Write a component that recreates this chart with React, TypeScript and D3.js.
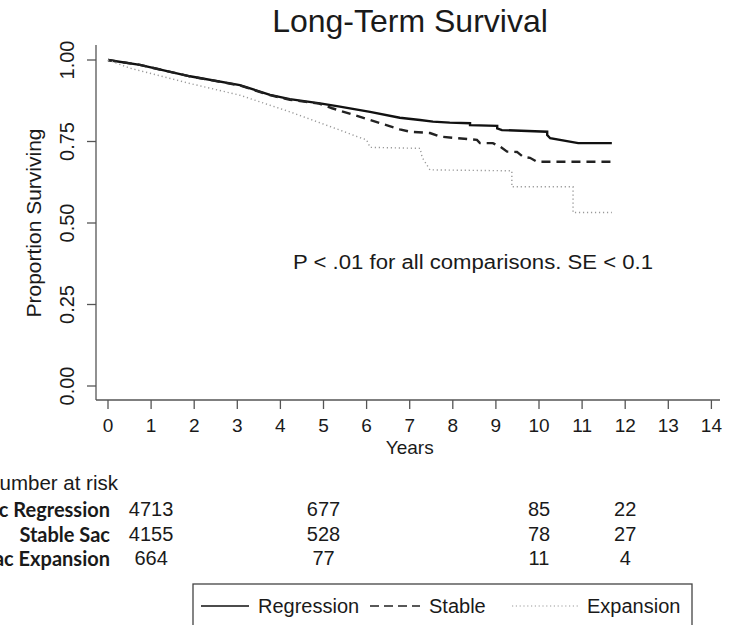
import React from "react";
import * as d3 from "d3";

// ---- data ----
const xTickYears = d3.range(0, 15);
const yTickValues = [0, 0.25, 0.5, 0.75, 1.0];

const regressionYears = [0, 0.74, 1.9, 3.06, 3.76, 4.22, 4.92, 5.38, 6.08, 6.77, 7.24, 7.54, 7.93, 8.4, 8.4, 9.03, 9.03, 9.14, 10.19, 10.19, 10.26, 10.91, 11.69];
const regressionSurv = [1.0, 0.985, 0.95, 0.923, 0.893, 0.88, 0.867, 0.857, 0.841, 0.823, 0.816, 0.811, 0.808, 0.806, 0.8, 0.798, 0.79, 0.785, 0.78, 0.77, 0.76, 0.745, 0.745];

const stableYears = [0, 0.74, 1.9, 3.06, 3.76, 4.22, 4.9, 5.2, 6.08, 6.77, 7.01, 7.47, 7.7, 8.56, 8.63, 8.93, 9.1, 9.26, 9.49, 9.63, 9.79, 9.95, 11.69];
const stableSurv = [1.0, 0.985, 0.95, 0.922, 0.892, 0.878, 0.866, 0.852, 0.816, 0.787, 0.78, 0.776, 0.765, 0.755, 0.745, 0.745, 0.734, 0.719, 0.718, 0.703, 0.7, 0.688, 0.688];

const expansionYears = [0, 0.51, 1.9, 3.06, 4.22, 5.38, 5.78, 6.0, 6.08, 7.24, 7.29, 7.47, 9.37, 9.37, 10.79, 10.79, 11.69];
const expansionSurv = [1.0, 0.975, 0.928, 0.892, 0.841, 0.785, 0.765, 0.755, 0.732, 0.729, 0.701, 0.663, 0.66, 0.611, 0.611, 0.532, 0.532];

const riskGroups = ["Sac Regression", "Stable Sac", "Sac Expansion"];
const riskColumnYears = [1, 5, 10, 12];
const riskRegression = [4713, 677, 85, 22];
const riskStable = [4155, 528, 78, 27];
const riskExpansion = [664, 77, 11, 4];

const legendLabels = ["Regression", "Stable", "Expansion"];

// ---- layout ----
const W = 731;
const H = 625;
const FONT = "'Liberation Sans', Arial, Helvetica, sans-serif";
const axisColor = "#555";
const textColor = "#1a1a1a";

const x = d3.scaleLinear().domain([0, 14]).range([108, 711.4]);
const y = d3.scaleLinear().domain([0, 1]).range([386, 60]);

const line = d3
  .line<[number, number]>()
  .x((d) => x(d[0]))
  .y((d) => y(d[1]));

const zip = (a: number[], b: number[]) => a.map((v, i) => [v, b[i]] as [number, number]);

const series = [
  { name: legendLabels[0], pts: zip(regressionYears, regressionSurv), stroke: "#111", width: 2.4, dash: "" },
  { name: legendLabels[1], pts: zip(stableYears, stableSurv), stroke: "#222", width: 2.4, dash: "9,6" },
  { name: legendLabels[2], pts: zip(expansionYears, expansionSurv), stroke: "#999", width: 1.4, dash: "1.2,2.8" },
];

const riskRows = [riskRegression, riskStable, riskExpansion];
const riskRowY = [509, 534, 558];

export default function App() {
  const axisY = 400;
  const axisX = 96;
  return (
    <div style={{ position: "absolute", left: 0, top: 0, width: W, height: H, background: "#fff" }}>
      <svg width={W} height={H} viewBox={`0 0 ${W} ${H}`} style={{ display: "block" }}>
        <rect width={W} height={H} fill="#fff" />
        {/* title */}
        <text x={410} y={21} textAnchor="middle" dominantBaseline="central" fontFamily={FONT} fontSize={32} fill={textColor}>
          Long-Term Survival
        </text>

        {/* y axis */}
        <line x1={axisX} x2={axisX} y1={45} y2={axisY} stroke={axisColor} strokeWidth={1.3} />
        {yTickValues.map((v) => (
          <g key={v}>
            <line x1={axisX - 9} x2={axisX} y1={y(v)} y2={y(v)} stroke={axisColor} strokeWidth={1.3} />
            <text
              transform={`translate(${67},${y(v)}) rotate(-90)`}
              textAnchor="middle"
              dominantBaseline="central"
              fontFamily={FONT}
              fontSize={20}
              fill={textColor}
            >
              {d3.format(".2f")(v)}
            </text>
          </g>
        ))}
        <text
          transform={`translate(${33},${y(0.5)}) rotate(-90)`}
          textAnchor="middle"
          dominantBaseline="central"
          fontFamily={FONT}
          fontSize={21}
          fill={textColor}
        >
          Proportion Surviving
        </text>

        {/* x axis */}
        <line x1={axisX} x2={720} y1={axisY} y2={axisY} stroke={axisColor} strokeWidth={1.3} />
        {xTickYears.map((t) => (
          <g key={t}>
            <line x1={x(t)} x2={x(t)} y1={axisY} y2={axisY + 9} stroke={axisColor} strokeWidth={1.3} />
            <text x={x(t)} y={425} textAnchor="middle" dominantBaseline="central" fontFamily={FONT} fontSize={19} fill={textColor}>
              {t}
            </text>
          </g>
        ))}
        <text x={x(7)} y={447} textAnchor="middle" dominantBaseline="central" fontFamily={FONT} fontSize={19} fill={textColor}>
          Years
        </text>

        {/* curves */}
        {series.map((s) => (
          <path
            key={s.name}
            d={line(s.pts) || ""}
            fill="none"
            stroke={s.stroke}
            strokeWidth={s.width}
            strokeDasharray={s.dash || undefined}
          />
        ))}

        {/* annotation */}
        <text
          x={293}
          y={262}
          dominantBaseline="central"
          fontFamily={FONT}
          fontSize={20}
          fill={textColor}
          textLength={360}
          lengthAdjust="spacingAndGlyphs"
        >
          P &lt; .01 for all comparisons. SE &lt; 0.1
        </text>

        {/* number at risk */}
        <text x={118} y={482} textAnchor="end" dominantBaseline="central" fontFamily={FONT} fontSize={20.5} fill={textColor}>
          Number at risk
        </text>
        {riskGroups.map((g, i) => (
          <g key={g}>
            <text
              x={110}
              y={riskRowY[i]}
              textAnchor="end"
              dominantBaseline="central"
              fontFamily="Lato, 'Open Sans', sans-serif"
              fontWeight={700}
              fontSize={20}
              fill={textColor}
            >
              {g}
            </text>
            {riskRows[i].map((n, j) => (
              <text
                key={j}
                x={x(riskColumnYears[j])}
                y={riskRowY[i]}
                textAnchor="middle"
                dominantBaseline="central"
                fontFamily={FONT}
                fontSize={20}
                fill={textColor}
              >
                {n}
              </text>
            ))}
          </g>
        ))}

        {/* legend */}
        <rect x={193} y={584} width={499} height={60} fill="none" stroke="#444" strokeWidth={1.3} />
        {series.map((s, i) => {
          const lx = [201, 370, 512][i];
          const lw = [48, 50, 66][i];
          return (
            <g key={s.name}>
              <line
                x1={lx}
                x2={lx + lw}
                y1={606}
                y2={606}
                stroke={s.stroke}
                strokeWidth={i === 2 ? 1.2 : 1.6}
                strokeDasharray={s.dash ? (i === 1 ? "9,5" : "1.2,2.6") : undefined}
              />
              <text x={lx + lw + 9} y={606} dominantBaseline="central" fontFamily={FONT} fontSize={20} fill={textColor}>
                {s.name}
              </text>
            </g>
          );
        })}
      </svg>
    </div>
  );
}
